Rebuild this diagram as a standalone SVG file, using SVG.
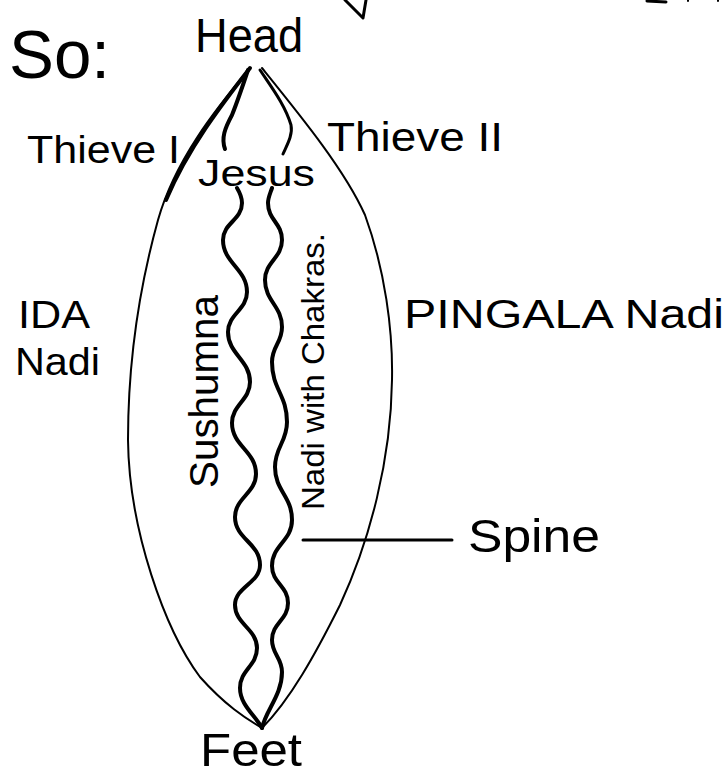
<svg xmlns="http://www.w3.org/2000/svg" width="727" height="775" viewBox="0 0 727 775">
<style>
text{font-family:"Liberation Sans","DejaVu Sans",sans-serif;fill:#000}
.thin{fill:none;stroke:#000;stroke-width:2;stroke-linecap:round;stroke-linejoin:round}
.thick{fill:none;stroke:#000;stroke-width:4;stroke-linecap:round;stroke-linejoin:round}
.mid{fill:none;stroke:#000;stroke-width:3;stroke-linecap:round;stroke-linejoin:round}
</style>
<rect width="727" height="775" fill="#fff"/>
<g id="fragments">
<path class="mid" d="M345,0 L363,18 L366,0"/>
<path class="mid" d="M647,1 L666,2"/>
<path class="thin" d="M688,0 L688,1 M718,0 L718,1"/>
</g>
<g id="outline">
<path class="thin" d="M250,68 C215,110 175,160 158,220 C140,285 128,360 128,440 C129,530 165,630 200,677 C225,705 245,718 262,728"/>
<path class="thick" d="M250,68 C222,104 188,148 166,200"/>
<path class="thin" d="M262,68 C300,115 345,170 365,215 C385,270 393,330 392,380 C391,460 370,540 340,605 C315,655 290,700 262,728"/>
</g>
<g id="sushumna">
<path class="thick" d="M248,70 C243,85 238,100 232,115 C225,128 221,138 225,149"/>
<path class="mid" d="M260,70 C272,88 285,105 291,125 C293,135 287,145 283,154"/>
<path class="thick" d="M237,188 C240,193 242,197 242,203 C242,220 223,223 223,240 C223,263 247,269 247,292 C247,310 228,314 228,332 C228,354 250,360 250,382 C250,400 232,405 232,423 C232,446 256,451 256,474 C256,493 235,498 235,517 C235,539 260,543 260,565 C260,583 235,587 235,605 C235,624 257,629 257,648 C257,666 240,670 240,688 C240,705 255,715 262,728"/>
<path class="thick" d="M272,188 C270,194 268,198 268,203 C268,220 282,223 282,240 C282,258 265,262 265,280 C265,301 282,306 282,327 C282,343 272,346 272,362 C272,389 287,395 287,422 C287,442 275,447 275,467 C275,491 292,496 292,520 C292,541 272,545 272,566 C272,583 288,586 288,603 C288,620 272,623 272,640 C272,654 282,658 282,672 C282,695 266,710 262,728"/>
</g>
<g id="connectors">
<path class="mid" d="M303,540 L452,540"/>
</g>
<g id="label-so"><text x="9" y="78" font-size="68" textLength="101" lengthAdjust="spacingAndGlyphs">So:</text></g>
<g id="node-head"><text x="195" y="52" font-size="48" textLength="108" lengthAdjust="spacingAndGlyphs">Head</text></g>
<g id="node-thieve1"><text x="27" y="163" font-size="38" textLength="153" lengthAdjust="spacingAndGlyphs">Thieve I</text></g>
<g id="node-thieve2"><text x="327" y="151" font-size="40" textLength="176" lengthAdjust="spacingAndGlyphs">Thieve II</text></g>
<g id="node-jesus"><text x="198" y="186" font-size="36" textLength="117" lengthAdjust="spacingAndGlyphs">Jesus</text></g>
<g id="node-ida"><text x="18" y="328" font-size="38" textLength="72" lengthAdjust="spacingAndGlyphs">IDA</text><text x="15" y="375" font-size="38" textLength="85" lengthAdjust="spacingAndGlyphs">Nadi</text></g>
<g id="node-pingala"><text x="404" y="328" font-size="40" textLength="320" lengthAdjust="spacingAndGlyphs">PINGALA Nadi</text></g>
<g id="node-sushumna"><text transform="translate(218,488) rotate(-90)" font-size="40" textLength="193" lengthAdjust="spacingAndGlyphs">Sushumna</text></g>
<g id="node-nadi-chakras"><text transform="translate(324,510) rotate(-90)" font-size="32" textLength="277" lengthAdjust="spacingAndGlyphs">Nadi with Chakras.</text></g>
<g id="node-spine"><text x="468" y="552" font-size="46" textLength="132" lengthAdjust="spacingAndGlyphs">Spine</text></g>
<g id="node-feet"><text x="200" y="766" font-size="46" textLength="102" lengthAdjust="spacingAndGlyphs">Feet</text></g>
</svg>
